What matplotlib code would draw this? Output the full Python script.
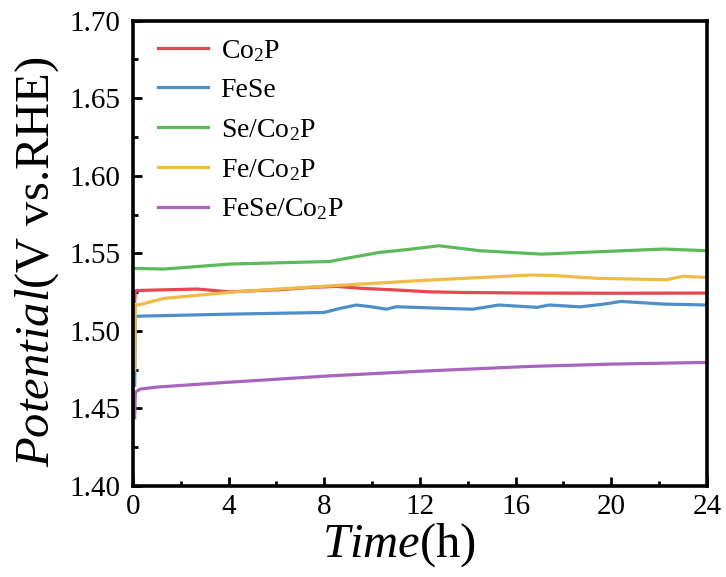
import matplotlib
matplotlib.use("Agg")
import matplotlib.pyplot as plt
from matplotlib.ticker import MultipleLocator

plt.rcParams["font.family"] = ["Liberation Serif", "DejaVu Serif"]
plt.rcParams["mathtext.fontset"] = "custom"
plt.rcParams["mathtext.rm"] = "Liberation Serif"
plt.rcParams["mathtext.it"] = "Liberation Serif:italic"

# Chronopotentiometry curves (time in h, potential in V vs. RHE)
t_co2p = [0.07, 0.1, 0.5, 2.7, 4.0, 4.5, 6.15, 7.5, 8.5, 9.6, 11.0, 12.4, 13.7, 16.6, 20.0, 24.0]
v_co2p = [1.519, 1.5259, 1.5262, 1.527, 1.5252, 1.5255, 1.5266, 1.5281, 1.5287, 1.5274,
          1.5264, 1.5252, 1.5248, 1.5244, 1.5243, 1.5244]

t_fese = [0.07, 0.1, 0.5, 4.0, 8.0, 8.65, 9.35, 10.0, 10.6, 11.0, 12.5, 14.2, 15.3, 16.9,
          17.4, 18.7, 19.7, 20.4, 22.2, 24.0]
v_fese = [1.465, 1.5094, 1.5096, 1.5108, 1.5119, 1.5145, 1.5167, 1.5155, 1.514, 1.5156,
          1.5148, 1.514, 1.5167, 1.5152, 1.5167, 1.5155, 1.5173, 1.519, 1.5173, 1.5167]

t_se_co2p = [0.0, 1.3, 4.05, 7.8, 8.2, 9.0, 10.3, 11.5, 12.8, 14.5, 17.1, 19.4, 22.2, 24.0]
v_se_co2p = [1.5403, 1.5399, 1.5431, 1.5446, 1.5447, 1.547, 1.5506, 1.5525, 1.5549,
             1.5517, 1.5495, 1.551, 1.5528, 1.5517]

t_fe_co2p = [0.07, 0.1, 0.3, 1.3, 4.5, 8.2, 12.4, 13.7, 16.6, 17.5, 19.4, 22.3, 23.0, 24.0]
v_fe_co2p = [1.475, 1.5167, 1.517, 1.521, 1.5255, 1.529, 1.5328, 1.5338, 1.536, 1.5358,
             1.5339, 1.533, 1.5352, 1.5345]

t_fese_co2p = [0.07, 0.1, 0.3, 1.0, 3.6, 8.2, 12.0, 16.6, 20.0, 24.0]
v_fese_co2p = [1.444, 1.4605, 1.4625, 1.4638, 1.4665, 1.471, 1.474, 1.4771, 1.4786, 1.4797]

labels = ["Co$_2$P", "FeSe", "Se/Co$_2$P", "Fe/Co$_2$P", "FeSe/Co$_2$P"]
colors = ["#e4474f", "#4f8fc9", "#5dba5a", "#efba45", "#a865bd"]

series = [
    (t_co2p, v_co2p),
    (t_fese, v_fese),
    (t_se_co2p, v_se_co2p),
    (t_fe_co2p, v_fe_co2p),
    (t_fese_co2p, v_fese_co2p),
]

fig = plt.figure(figsize=(7.26, 5.77), dpi=100)
ax = fig.add_axes([0.1832, 0.1577, 0.7906, 0.8064])

for (t, v), lab, c in zip(series, labels, colors):
    ax.plot(t, v, color=c, lw=2.3, label=lab, solid_joinstyle="round")

ax.set_xlim(0, 24)
ax.set_ylim(1.40, 1.70)
ax.xaxis.set_major_locator(MultipleLocator(4))
ax.xaxis.set_minor_locator(MultipleLocator(2))
ax.yaxis.set_major_locator(MultipleLocator(0.05))
ax.yaxis.set_minor_locator(MultipleLocator(0.025))
ax.yaxis.set_major_formatter(plt.FormatStrFormatter("%.2f"))

ax.tick_params(which="both", direction="in", top=False, right=False, labelsize=21)
ax.tick_params(which="major", length=6.5, width=2.0)
ax.tick_params(which="minor", length=3.5, width=2.0)
ax.tick_params(axis="y", pad=9)
ax.tick_params(axis="x", pad=6)

for s in ax.spines.values():
    s.set_linewidth(2.6)

ax.set_xlabel(r"$\mathit{Time}$(h)", fontsize=35)
ax.set_ylabel(r"$\mathit{Potential}$(V vs.RHE)", fontsize=35)
ax.xaxis.set_label_coords(0.4634, -0.075)
ax.yaxis.set_label_coords(-0.126, 0.482)

leg = ax.legend(loc="upper left", bbox_to_anchor=(0.01, 1.005), frameon=False,
                fontsize=20, handlelength=1.8, handletextpad=0.45,
                labelspacing=0.5, borderaxespad=0.3)

fig.savefig("out.png", dpi=100)
